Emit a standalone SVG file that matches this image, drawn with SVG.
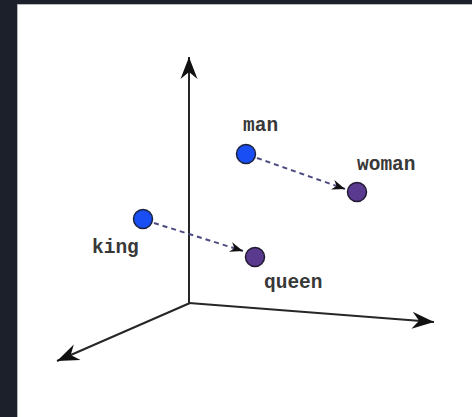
<svg xmlns="http://www.w3.org/2000/svg" width="472" height="417" viewBox="0 0 472 417">
  <defs>
    <style>
      .axis { stroke: #262626; stroke-width: 2; fill: none; }
      .vec { stroke: #4a4a80; stroke-width: 2; stroke-dasharray: 5 4; fill: none; }
      .blue { fill: #1a4ef5; stroke: #1c2340; stroke-width: 1.5; }
      .purple { fill: #5a3a8e; stroke: #221a33; stroke-width: 1.5; }
      .lbl { font-family: "Liberation Mono", "DejaVu Sans Mono", monospace; font-size: 19.5px; font-weight: bold; fill: #383838; }
    </style>
    <marker id="axhead" markerUnits="userSpaceOnUse" markerWidth="26" markerHeight="20" viewBox="-24 -10 26 20" refX="0" refY="0" orient="auto">
      <path d="M0,0 L-22,-8.5 L-15,0 L-22,8.5 Z" fill="#111"/>
    </marker>
    <marker id="vhead" markerUnits="userSpaceOnUse" markerWidth="16" markerHeight="12" viewBox="-14 -6 16 12" refX="0" refY="0" orient="auto">
      <path d="M0,0 L-13,-5 L-9,0 L-13,5 Z" fill="#111"/>
    </marker>
  </defs>
  <rect x="0" y="0" width="472" height="417" fill="#1b202b"/>
  <rect x="17.5" y="4.5" width="455" height="413" fill="#ffffff"/>
  <path d="M17.5,417 L17.5,4.5 L472,4.5" fill="none" stroke="#b5b8bd" stroke-width="1"/>
  <g id="axes">
    <line class="axis" x1="189" y1="303" x2="189" y2="57" marker-end="url(#axhead)"/>
    <line class="axis" x1="189" y1="303" x2="434" y2="322" marker-end="url(#axhead)"/>
    <line class="axis" x1="190" y1="303" x2="57" y2="361" marker-end="url(#axhead)"/>
  </g>
  <g id="connectors">
    <line class="vec" x1="257" y1="158" x2="345" y2="189" marker-end="url(#vhead)"/>
    <line class="vec" x1="154" y1="223" x2="243" y2="251" marker-end="url(#vhead)"/>
  </g>
  <g id="man">
    <circle class="blue" cx="246" cy="154" r="9.5"/>
    <text class="lbl" x="243" y="131">man</text>
  </g>
  <g id="woman">
    <circle class="purple" cx="357" cy="192" r="9.5"/>
    <text class="lbl" x="357" y="170">woman</text>
  </g>
  <g id="king">
    <circle class="blue" cx="143" cy="219" r="9.5"/>
    <text class="lbl" x="92" y="253">king</text>
  </g>
  <g id="queen">
    <circle class="purple" cx="255" cy="257" r="9.5"/>
    <text class="lbl" x="264" y="288">queen</text>
  </g>
</svg>
